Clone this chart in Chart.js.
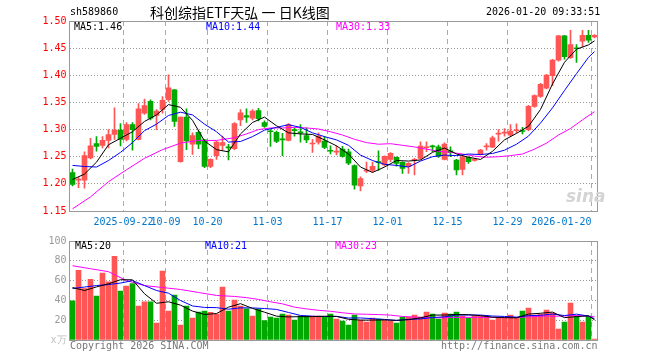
<!DOCTYPE html>
<html><head><meta charset="utf-8">
<script src="https://cdn.jsdelivr.net/npm/chart.js@4.4.1/dist/chart.umd.min.js"></script>
<style>
html,body{margin:0;padding:0;background:#fff;}
body{width:660px;height:360px;overflow:hidden;position:relative;font-family:"DejaVu Sans Mono",monospace;}
canvas{position:absolute;left:0;}
.t{position:absolute;font-size:10px;line-height:12px;white-space:pre;z-index:2;font-family:"DejaVu Sans Mono",monospace;}
</style></head><body>
<canvas id="pc" width="660" height="232" style="top:0"></canvas>
<canvas id="vc" width="660" height="128" style="top:232px"></canvas>
<div class="t" style="left:70px;top:6px;color:#000">sh589860</div>
<div class="t" style="left:150px;top:3px;font-family:'Noto Sans CJK SC';font-size:14px;line-height:18px;color:#000">科创综指ETF天弘 一 日K线图</div>
<div class="t" style="left:486px;top:6px;color:#000">2026-01-20 09:33:51</div>
<div class="t" id="pl5" style="left:74px;top:21px;color:#000"></div>
<div class="t" id="pl10" style="left:206px;top:21px;color:#00f"></div>
<div class="t" id="pl30" style="left:336px;top:21px;color:#f0f"></div>
<div class="t" id="vl5" style="left:75px;top:240px;color:#000"></div>
<div class="t" id="vl10" style="left:205px;top:240px;color:#00f"></div>
<div class="t" id="vl30" style="left:335px;top:240px;color:#f0f"></div>
<div class="t" style="left:566px;top:186px;font-family:'DejaVu Sans';font-style:italic;font-weight:bold;font-size:17px;line-height:20px;color:#d4d4d4">sina</div>
<div class="t" style="left:70px;top:340px;color:#777">Copyright 2026 SINA.COM</div>
<div class="t" style="left:441px;top:340px;color:#777">http://finance.sina.com.cn</div>
<script>
const dates = [
"2025-09-09","2025-09-10","2025-09-11","2025-09-12","2025-09-15","2025-09-16","2025-09-17","2025-09-18","2025-09-19","2025-09-22","2025-09-23","2025-09-24","2025-09-25","2025-09-26","2025-09-29","2025-09-30",
"2025-10-09","2025-10-10","2025-10-13","2025-10-14","2025-10-15","2025-10-16","2025-10-17","2025-10-20","2025-10-21","2025-10-22","2025-10-23","2025-10-24","2025-10-27","2025-10-28","2025-10-29","2025-10-30","2025-10-31",
"2025-11-03","2025-11-04","2025-11-05","2025-11-06","2025-11-07","2025-11-10","2025-11-11","2025-11-12","2025-11-13","2025-11-14","2025-11-17","2025-11-18","2025-11-19","2025-11-20","2025-11-21","2025-11-24","2025-11-25","2025-11-26","2025-11-27","2025-11-28",
"2025-12-01","2025-12-02","2025-12-03","2025-12-04","2025-12-05","2025-12-08","2025-12-09","2025-12-10","2025-12-11","2025-12-12","2025-12-15","2025-12-16","2025-12-17","2025-12-18","2025-12-19","2025-12-22","2025-12-23","2025-12-24","2025-12-25","2025-12-26","2025-12-29","2025-12-30","2025-12-31",
"2026-01-05","2026-01-06","2026-01-07","2026-01-08","2026-01-09","2026-01-12","2026-01-13","2026-01-14","2026-01-15","2026-01-16","2026-01-19","2026-01-20"];

const tickDates = ["2025-09-22","2025-10-09","2025-10-20","2025-11-03","2025-11-17","2025-12-01","2025-12-15","2025-12-29","2026-01-20"];
const tickTexts = ["2025-09-22","10-09","10-20","11-03","11-17","12-01","12-15","12-29","2026-01-20"];

const open = [1.221,1.207,1.207,1.248,1.274,1.271,1.280,1.291,1.299,1.282,1.309,1.282,1.330,1.352,1.326,1.337,1.355,1.373,1.241,1.323,
1.273,1.295,1.281,1.232,1.252,1.271,1.268,1.265,1.318,1.326,1.321,1.335,1.313,1.297,1.295,1.283,1.280,1.299,1.295,1.289,
1.2735,1.277,1.279,1.2615,1.2585,1.264,1.259,1.2337,1.1964,1.2235,1.2247,1.2404,1.2349,1.2451,1.2488,1.2396,1.2316,1.2435,1.2469,1.2665,
1.269,1.2684,1.2451,1.261,1.2439,1.2267,1.2488,1.2432,1.2549,1.268,1.2677,1.2915,1.2935,1.2896,1.2978,1.2975,1.300,1.3427,1.361,1.3762,
1.3994,1.428,1.4726,1.4323,1.450,1.4628,1.4738,1.4707];
const high = [1.227,1.212,1.259,1.284,1.287,1.287,1.300,1.340,1.311,1.313,1.313,1.348,1.356,1.355,1.337,1.361,1.401,1.374,1.323,1.338,
1.294,1.297,1.282,1.246,1.279,1.288,1.273,1.313,1.337,1.338,1.337,1.339,1.316,1.300,1.297,1.293,1.311,1.303,1.309,1.303,
1.282,1.294,1.287,1.270,1.270,1.269,1.264,1.235,1.213,1.240,1.240,1.2608,1.2518,1.2574,1.250,1.2408,1.239,1.247,1.2776,1.2776,
1.2715,1.2715,1.2758,1.2684,1.2451,1.2512,1.250,1.246,1.2635,1.274,1.2878,1.300,1.3018,1.3091,1.3104,1.3043,1.3445,1.364,1.3854,1.4018,
1.4293,1.4738,1.4738,1.4829,1.4567,1.4829,1.4829,1.475];
const low = [1.196,1.193,1.192,1.246,1.260,1.266,1.266,1.282,1.270,1.279,1.262,1.281,1.328,1.318,1.300,1.330,1.352,1.306,1.240,1.263,
1.254,1.265,1.230,1.230,1.245,1.262,1.244,1.263,1.307,1.313,1.318,1.316,1.304,1.269,1.276,1.252,1.279,1.288,1.277,1.276,
1.258,1.273,1.265,1.255,1.2535,1.249,1.2355,1.190,1.187,1.2205,1.2217,1.2247,1.2325,1.2408,1.2328,1.2193,1.2193,1.2163,1.2451,1.2592,
1.2592,1.2488,1.2439,1.250,1.2163,1.2163,1.2377,1.242,1.2531,1.262,1.2665,1.2787,1.288,1.2878,1.2939,1.2921,1.2982,1.3409,1.3591,1.375,
1.381,1.4262,1.4299,1.4311,1.4238,1.4524,1.4604,1.4689];
const close = [1.199,1.209,1.252,1.270,1.269,1.280,1.291,1.299,1.282,1.309,1.300,1.338,1.344,1.321,1.334,1.354,1.377,1.315,1.323,1.279,
1.289,1.273,1.232,1.245,1.277,1.276,1.266,1.311,1.331,1.323,1.334,1.320,1.306,1.296,1.278,1.281,1.309,1.298,1.294,1.281,
1.2745,1.288,1.267,1.260,1.2595,1.2506,1.238,1.1976,1.2096,1.2247,1.2325,1.2392,1.2506,1.2561,1.2377,1.2285,1.2377,1.2445,1.2696,1.2675,
1.268,1.2512,1.2733,1.2574,1.2255,1.250,1.2408,1.2445,1.2623,1.269,1.2848,1.2925,1.294,1.297,1.2985,1.2965,1.3427,1.3628,1.3835,1.4006,
1.428,1.4726,1.4341,1.4567,1.4488,1.4738,1.4646,1.4738];

const volume = [39.6,70.5,52,61.4,44.3,67.5,58.7,84.6,49.3,54.4,57,34.2,38.6,38.6,17.1,69.5,29.2,45.3,15.1,34.2,
22.2,28.2,29.2,27.9,26.2,53.4,29.2,40.3,34.2,31.6,24.2,31.2,19.5,23.2,22.2,26.2,25.2,20.1,24.2,24.2,
24.2,24.2,23.2,26.2,21.1,19.1,15.1,25.2,20.1,18.1,22.2,21.1,20.1,19.1,17.1,23.2,23.2,25.2,23.2,28.2,
26.2,21.1,27.2,26.2,28.2,24.2,22.2,24.2,24.2,24.2,20.1,22.2,22.2,25.2,22.2,29.2,32.2,25.2,26.2,30.2,
27.2,11.1,18.1,37.3,24.2,18.1,24.2,1];

// moving-average lines at these bar positions
const maIdx = [0,2,4,6,8,10,12,14,16,18,20,22,24,26,28,30,32,34,36,38,40,42,44,46,48,50,52,54,56,58,60,62,64,66,68,70,72,74,76,78,80,82,84,86,87];
const priceMA5 = [1.208,1.218,1.240,1.272,1.284,1.296,1.315,1.327,1.346,1.341,1.317,1.279,1.263,1.259,1.292,1.313,1.323,1.307,1.294,1.292,1.291,1.281,1.270,1.255,1.231,1.221,1.231,1.243,1.242,1.244,1.258,1.266,1.255,1.249,1.245,1.260,1.281,1.293,1.306,1.337,1.384,1.424,1.448,1.456,1.4635];
const priceMA10 = [1.234,1.232,1.231,1.243,1.258,1.276,1.298,1.310,1.326,1.332,1.327,1.310,1.296,1.277,1.278,1.287,1.299,1.304,1.309,1.304,1.294,1.287,1.281,1.271,1.253,1.243,1.236,1.234,1.231,1.242,1.250,1.253,1.252,1.255,1.254,1.256,1.262,1.273,1.288,1.312,1.340,1.372,1.403,1.433,1.4437];
const ma30Idx = [0,3,6,9,12,15,18,21,24,27,29,31,33,35,37,39,41,43,45,47,49,51,53,55,57,59,61,63,65,67,69,71,73,75,77,79,81,83,85,87];
const priceMA30 = [1.154,1.176,1.204,1.226,1.247,1.263,1.275,1.280,1.280,1.285,1.292,1.300,1.303,1.303,1.304,1.303,1.301,1.296,1.290,1.282,1.276,1.273,1.274,1.271,1.268,1.264,1.260,1.258,1.255,1.251,1.249,1.250,1.252,1.255,1.264,1.275,1.290,1.302,1.318,1.333];

const volMA5 = [53,50,53.6,56.8,60.9,60.8,46.7,37.1,38.6,35.2,29.2,25.8,26.7,33.2,36.7,31.9,28.1,24.1,23.3,23.6,23.6,24.0,23.8,20.9,20.1,20.1,20.3,19.9,20.5,22.4,25.2,25.2,25.8,25.6,24.6,23.0,22.6,22.4,26.2,27.0,28.2,22.6,23.6,24.4,20.4];
const volMA10 = [52,53.5,55,56,57.5,60.0,55.0,50.0,47.3,39.9,34.4,32.9,32.7,31.1,32.5,32.4,31.8,30.9,27.8,24.8,24.0,23.7,23.9,22.2,22.3,21.5,20.8,19.7,20.9,21.3,22.7,23.4,25.2,25.2,25.2,24.2,23.8,23.1,24.6,24.9,26.2,24.7,26.1,24.2,21.4];
const volMA30 = [75,72,69,60,55,53,51,48,45,44,42.8,41.0,38.6,36.5,33.2,31.4,30.0,29.0,27.5,26.3,26.0,25.7,25.1,23.8,23.1,22.6,22.4,22.7,22.9,22.9,22.9,22.7,22.6,23.0,23.6,24.2,24.0,24.6,24.6,23.4];

const priceTicks = [1.15,1.20,1.25,1.30,1.35,1.40,1.45,1.50];
const volTicks = [0,20,40,60,80,100];

const RED = '#ff5555', GREEN = '#00a800';
const colors = close.map((c,i)=> c >= open[i] ? RED : GREEN);
const tickIdx = tickDates.map(d => dates.indexOf(d));
const pts = (idx, vals) => idx.map((d,k)=>({x:dates[d], y:vals[k]}));

document.getElementById('pl5').textContent = 'MA5:' + priceMA5[priceMA5.length-1].toFixed(2);
document.getElementById('pl10').textContent = 'MA10:' + priceMA10[priceMA10.length-1].toFixed(2);
document.getElementById('pl30').textContent = 'MA30:' + priceMA30[priceMA30.length-1].toFixed(2);
document.getElementById('vl5').textContent = 'MA5:' + Math.round(volMA5[volMA5.length-1]);
document.getElementById('vl10').textContent = 'MA10:' + Math.round(volMA10[volMA10.length-1]);
document.getElementById('vl30').textContent = 'MA30:' + Math.round(volMA30[volMA30.length-1]);

Chart.defaults.font.family = '"DejaVu Sans Mono", monospace';
Chart.defaults.font.size = 10;

const framePlugin = {
  id:'frame',
  afterDraw(chart){
    const a = chart.chartArea, c = chart.ctx;
    c.save();
    c.strokeStyle = '#999'; c.lineWidth = 1;
    const l = Math.floor(a.left)+0.5, t = Math.floor(a.top)+0.5, r = Math.floor(a.right)+0.5, b = Math.floor(a.bottom)+0.5;
    c.strokeRect(l, t, r-l, b-t);
    c.restore();
  }
};
const xLabelPlugin = {
  id:'xlabels',
  afterDraw(chart){
    const xs = chart.scales.x, c = chart.ctx, a = chart.chartArea;
    c.save();
    c.font = '10px "DejaVu Sans Mono", monospace';
    c.fillStyle = '#0077cc';
    c.textBaseline = 'middle';
    c.textAlign = 'center';
    tickIdx.forEach((idx,k)=>{
      const gx = xs.getPixelForValue(idx) - 3;
      const w = c.measureText(tickTexts[k]).width;
      let x = gx;
      if (gx + w/2 > a.right) x = gx - w/2;
      c.fillText(tickTexts[k], x, a.bottom + 11);
    });
    c.restore();
  }
};

const lineDs = (data, color) => ({type:'line', data, borderColor:color, borderWidth:1, pointRadius:0, tension:0, order:1});
const vGrid = {
  offset:true, drawTicks:false,
  color: ctx => tickIdx.includes(ctx.index) ? '#aaa' : 'rgba(0,0,0,0)'
};

new Chart(document.getElementById('pc'), {
  type:'bar',
  data:{
    labels: dates,
    datasets:[
      lineDs(pts(maIdx, priceMA5), '#000'),
      lineDs(pts(maIdx, priceMA10), '#0000ff'),
      lineDs(pts(ma30Idx, priceMA30), '#ff00ff'),
      {data: low.map((l,i)=>[l, high[i]]), backgroundColor: colors, barThickness:1, grouped:false, order:4},
      {data: open.map((o,i)=>[o, close[i]]), backgroundColor: colors, barThickness:5, grouped:false, minBarLength:1, order:3}
    ]
  },
  options:{
    responsive:false, animation:false, devicePixelRatio:1,
    layout:{padding:{top:21, right:62.5, left:0, bottom:0}},
    plugins:{legend:{display:false}, tooltip:{enabled:false}},
    scales:{
      x:{offset:true, grid:vGrid, border:{display:false, dash:[5,4]}, ticks:{display:false, autoSkip:false},
         afterFit: s => { s.height = 21; }},
      y:{min:priceTicks[0], max:priceTicks[priceTicks.length-1],
         afterBuildTicks: s => { s.ticks = priceTicks.map(v=>({value:v})); },
         ticks:{color:'#ff0000', padding:3, callback: v => Number(v).toFixed(2)},
         grid:{drawTicks:false, color: ctx => (ctx.tick && ctx.tick.value > 1.151 && ctx.tick.value < 1.499) ? '#999' : 'rgba(0,0,0,0)'},
         border:{display:false, dash:[1,2]},
         afterFit: s => { s.width = 69.5; }}
    }
  },
  plugins:[framePlugin, xLabelPlugin]
});

new Chart(document.getElementById('vc'), {
  type:'bar',
  data:{
    labels: dates,
    datasets:[
      lineDs(pts(maIdx, volMA5), '#000'),
      lineDs(pts(maIdx, volMA10), '#0000ff'),
      lineDs(pts(ma30Idx, volMA30), '#ff00ff'),
      {data: volume, backgroundColor: colors, barThickness:5, grouped:false, order:3}
    ]
  },
  options:{
    responsive:false, animation:false, devicePixelRatio:1,
    layout:{padding:{top:9, right:62.5, left:0, bottom:0}},
    plugins:{legend:{display:false}, tooltip:{enabled:false}},
    scales:{
      x:{offset:true, grid:vGrid, border:{display:false, dash:[5,4]}, ticks:{display:false, autoSkip:false},
         afterFit: s => { s.height = 20; }},
      y:{min:0, max:100,
         afterBuildTicks: s => { s.ticks = volTicks.map(v=>({value:v})); },
         ticks:{padding:3, color: ctx => ctx.tick && ctx.tick.value === 0 ? '#c0c0c0' : '#999',
                callback: v => v === 0 ? 'x万' : String(v)},
         grid:{drawTicks:false, color: ctx => (ctx.tick && ctx.tick.value > 0 && ctx.tick.value < 100) ? '#999' : 'rgba(0,0,0,0)'},
         border:{display:false, dash:[1,2]},
         afterFit: s => { s.width = 69.5; }}
    }
  },
  plugins:[framePlugin]
});
</script>
</body></html>
